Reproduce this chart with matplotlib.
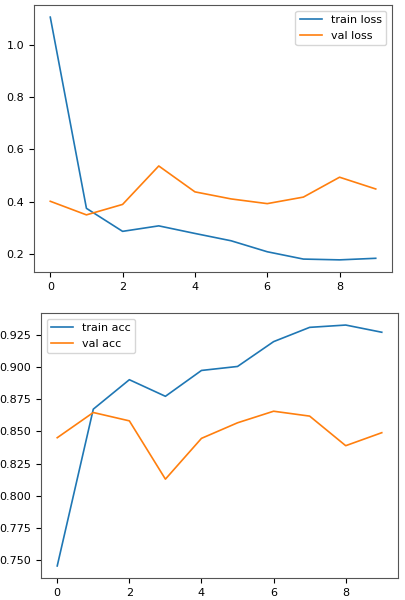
import matplotlib
matplotlib.use("Agg")
import matplotlib.pyplot as plt

# epoch 별 학습 기록
epochs = list(range(10))
train_loss = [1.106, 0.375, 0.287, 0.308, 0.279, 0.251, 0.209, 0.181, 0.178, 0.184]
val_loss = [0.402, 0.350, 0.390, 0.537, 0.438, 0.411, 0.393, 0.418, 0.494, 0.449]
train_acc = [0.7454, 0.8673, 0.8902, 0.8773, 0.8974, 0.9005, 0.9198, 0.9309, 0.9327, 0.9271]
val_acc = [0.8451, 0.8647, 0.8582, 0.8129, 0.8446, 0.8567, 0.8657, 0.8619, 0.8389, 0.8490]

W, H = 405, 600
plt.rcParams["font.size"] = 8

fig = plt.figure(figsize=(W / 100, H / 100), dpi=100)


def box(l, t, r, b):
    # 픽셀 좌표 → figure 비율
    return [l / W, (H - b) / H, (r - l) / W, (b - t) / H]


ax1 = fig.add_axes(box(34, 5, 392, 272))
ax1.plot(epochs, train_loss, lw=1.2, label="train loss")
ax1.plot(epochs, val_loss, lw=1.2, label="val loss")
ax1.set_xticks([0, 2, 4, 6, 8])
ax1.legend(loc="upper right", fontsize=8)

ax2 = fig.add_axes(box(41, 313, 398, 578))
ax2.plot(epochs, train_acc, lw=1.2, label="train acc")
ax2.plot(epochs, val_acc, lw=1.2, label="val acc")
ax2.set_xticks([0, 2, 4, 6, 8])
ax2.legend(loc="upper left", fontsize=8)

for ax in (ax1, ax2):
    for s in ax.spines.values():
        s.set_color("#555555")

fig.savefig("out.png", dpi=100)
